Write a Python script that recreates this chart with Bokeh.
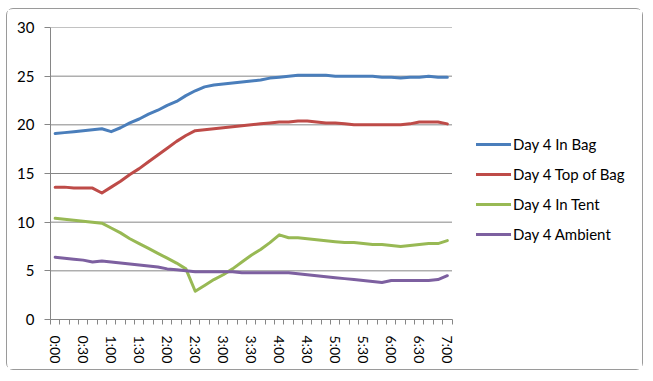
from bokeh.plotting import figure
from bokeh.models import Range1d, FixedTicker, Legend, LegendItem
from bokeh.embed import file_html
from bokeh.resources import INLINE

times = ["0:00", "0:10", "0:20", "0:30", "0:40", "0:50", "1:00", "1:10", "1:20", "1:30",
         "1:40", "1:50", "2:00", "2:10", "2:20", "2:30", "2:40", "2:50", "3:00", "3:10",
         "3:20", "3:30", "3:40", "3:50", "4:00", "4:10", "4:20", "4:30", "4:40", "4:50",
         "5:00", "5:10", "5:20", "5:30", "5:40", "5:50", "6:00", "6:10", "6:20", "6:30",
         "6:40", "6:50", "7:00"]

in_bag = [19.1, 19.2, 19.3, 19.4, 19.5, 19.6, 19.3, 19.7, 20.2, 20.6,
          21.1, 21.5, 22.0, 22.4, 23.0, 23.5, 23.9, 24.1, 24.2, 24.3,
          24.4, 24.5, 24.6, 24.8, 24.9, 25.0, 25.1, 25.1, 25.1, 25.1,
          25.0, 25.0, 25.0, 25.0, 25.0, 24.9, 24.9, 24.8, 24.9, 24.9,
          25.0, 24.9, 24.9]

top_of_bag = [13.6, 13.6, 13.5, 13.5, 13.5, 13.0, 13.6, 14.2, 14.9, 15.5,
              16.2, 16.9, 17.6, 18.3, 18.9, 19.4, 19.5, 19.6, 19.7, 19.8,
              19.9, 20.0, 20.1, 20.2, 20.3, 20.3, 20.4, 20.4, 20.3, 20.2,
              20.2, 20.1, 20.0, 20.0, 20.0, 20.0, 20.0, 20.0, 20.1, 20.3,
              20.3, 20.3, 20.1]

in_tent = [10.4, 10.3, 10.2, 10.1, 10.0, 9.9, 9.4, 8.9, 8.3, 7.8,
           7.3, 6.8, 6.3, 5.8, 5.2, 2.9, 3.5, 4.1, 4.6, 5.2,
           5.9, 6.6, 7.2, 7.9, 8.7, 8.4, 8.4, 8.3, 8.2, 8.1,
           8.0, 7.9, 7.9, 7.8, 7.7, 7.7, 7.6, 7.5, 7.6, 7.7,
           7.8, 7.8, 8.1]

ambient = [6.4, 6.3, 6.2, 6.1, 5.9, 6.0, 5.9, 5.8, 5.7, 5.6,
           5.5, 5.4, 5.2, 5.1, 5.0, 4.9, 4.9, 4.9, 4.9, 4.9,
           4.8, 4.8, 4.8, 4.8, 4.8, 4.8, 4.7, 4.6, 4.5, 4.4,
           4.3, 4.2, 4.1, 4.0, 3.9, 3.8, 4.0, 4.0, 4.0, 4.0,
           4.0, 4.1, 4.5]

series_names = ["Day 4 In Bag", "Day 4 Top of Bag", "Day 4 In Tent", "Day 4 Ambient"]
series_colors = ["#4A7EBB", "#BE4B48", "#98B954", "#7D60A0"]
y_ticks = [0, 5, 10, 15, 20, 25, 30]

FONT = "Lato"
GRAY = "#868686"

n = len(times)
x = list(range(n))
label_idx = [i for i, t in enumerate(times) if t.endswith(":00") or t.endswith(":30")]

# layout (pixels)
W, H = 637, 362
BL, BR, BT, BB = 43, 5, 18, 52
FRAME_W = W - BL - BR
DATA_W = 401.5                       # pixel width of the category area
x_start = -0.5
x_end = x_start + n * FRAME_W / DATA_W

p = figure(width=W, height=H, output_backend="svg", toolbar_location=None,
           x_range=Range1d(x_start, x_end), y_range=Range1d(0, 30),
           min_border_left=BL, min_border_right=BR, min_border_top=BT, min_border_bottom=BB)
p.outline_line_color = None
p.background_fill_color = "white"
p.border_fill_color = "white"
p.styles = {"border": "1px solid #9a9a9a", "border-radius": "7px",
            "margin-left": "6px", "margin-top": "8px"}

# horizontal gridlines limited to the category area
p.xgrid.grid_line_color = None
p.ygrid.grid_line_color = None
p.segment(x0=[x_start] * len(y_ticks), y0=y_ticks, x1=[n - 0.5] * len(y_ticks), y1=y_ticks,
          line_color=GRAY, line_width=1)

renderers = []
for ys, c in zip([in_bag, top_of_bag, in_tent, ambient], series_colors):
    r = p.line(x, ys, line_color=c, line_width=3, line_join="round", line_cap="round")
    renderers.append(r)

# y axis
p.yaxis.ticker = FixedTicker(ticks=y_ticks)
p.yaxis.axis_line_color = GRAY
p.yaxis.major_tick_line_color = GRAY
p.yaxis.major_tick_out = 6
p.yaxis.major_tick_in = 0
p.yaxis.minor_tick_line_color = None
p.yaxis.major_label_text_font = FONT
p.yaxis.major_label_text_font_size = "15px"
p.yaxis.major_label_text_color = "black"
p.yaxis.major_label_standoff = 10

# x axis
p.xaxis.bounds = (x_start, n - 0.5)
p.xaxis.ticker = FixedTicker(ticks=label_idx,
                             minor_ticks=[i - 0.5 for i in range(n + 1)])
p.xaxis.major_label_overrides = {i: times[i] for i in label_idx}
p.xaxis.axis_line_color = GRAY
p.xaxis.major_tick_line_color = None
p.xaxis.major_tick_out = 0
p.xaxis.major_tick_in = 0
p.xaxis.minor_tick_line_color = GRAY
p.xaxis.minor_tick_out = 5
p.xaxis.minor_tick_in = 0
p.xaxis.major_label_orientation = "vertical"
p.xaxis.major_label_text_font = FONT
p.xaxis.major_label_text_font_size = "14px"
p.xaxis.major_label_text_color = "black"
p.xaxis.major_label_standoff = 11

legend = Legend(items=[LegendItem(label=nm, renderers=[r]) for nm, r in zip(series_names, renderers)],
                location=(426, 75), padding=0, margin=0, spacing=10,
                glyph_width=35, glyph_height=20, label_height=20, label_standoff=2,
                label_text_font=FONT, label_text_font_size="15px", label_text_color="black",
                border_line_color=None, background_fill_alpha=0)
p.add_layout(legend, "center")

open("out.html", "w").write(file_html(p, INLINE))
